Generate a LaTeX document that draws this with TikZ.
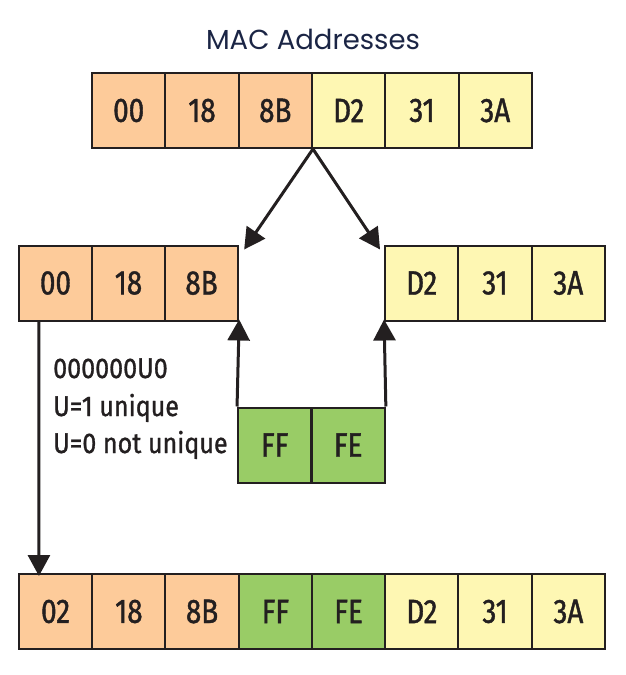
\documentclass[tikz,border=0pt]{standalone}
\usepackage{fontspec}
\setmainfont{Fira Sans}
\newfontfamily\titlefont{Poppins}
\newfontfamily\cellfont{Fira Sans}[FakeStretch=0.82,FakeBold=1.2]
\newfontfamily\notefont{Fira Sans}[FakeStretch=0.88,FakeBold=1.0]
\usetikzlibrary{arrows.meta}
\definecolor{orangecell}{HTML}{FDCB9A}
\definecolor{yellowcell}{HTML}{FEF7B3}
\definecolor{greencell}{HTML}{99CC66}
\definecolor{edge}{HTML}{231F20}
\definecolor{titleblue}{HTML}{1B2545}
\begin{document}
\begin{tikzpicture}[x=1pt,y=-1pt,
  cell/.style={draw=edge,line width=2pt,minimum width=73.3pt,minimum height=75pt,inner sep=0pt,
    font=\cellfont\fontsize{34}{34}\selectfont,text=edge},
  oc/.style={cell,fill=orangecell},
  yc/.style={cell,fill=yellowcell},
  gc/.style={cell,fill=greencell},
  arr/.style={draw=edge,line width=3pt,-{Triangle[length=21pt,width=22pt]}},
  note/.style={anchor=base west,inner sep=0pt,font=\notefont\fontsize{28.5}{28.5}\selectfont,text=edge}]
\useasboundingbox (0,0) rectangle (626,675);
\node[anchor=base,inner sep=0pt,text=titleblue,font=\titlefont\fontsize{27.5}{27.5}\selectfont] (title) at (313,49) {MAC Addresses};
% top row
\node[oc] (t1) at (128.7,110.5) {00};
\node[oc] (t2) at (202,110.5) {18};
\node[oc] (t3) at (275.3,110.5) {8B};
\node[yc] (t4) at (348.7,110.5) {D2};
\node[yc] (t5) at (422,110.5) {31};
\node[yc] (t6) at (495.3,110.5) {3A};
% middle left
\node[oc] (m1) at (55.5,283) {00};
\node[oc] (m2) at (128.5,283) {18};
\node[oc] (m3) at (201.5,283) {8B};
% middle right
\node[yc] (r1) at (421.7,283) {D2};
\node[yc] (r2) at (495,283) {31};
\node[yc] (r3) at (568.3,283) {3A};
% green
\node[gc] (g1) at (274.7,445) {FF};
\node[gc] (g2) at (348.2,445) {FE};
% bottom row
\node[oc] (b1) at (55.6,611.5) {02};
\node[oc] (b2) at (128.9,611.5) {18};
\node[oc] (b3) at (202.1,611.5) {8B};
\node[gc] (b4) at (275.4,611.5) {FF};
\node[gc] (b5) at (348.6,611.5) {FE};
\node[yc] (b6) at (421.9,611.5) {D2};
\node[yc] (b7) at (495.1,611.5) {31};
\node[yc] (b8) at (568.4,611.5) {3A};
% notes
\node[note] (n1) at (53,378) {000000U0};
\node[note] (n2) at (53,416) {U=1 unique};
\node[note] (n3) at (53,453) {U=0 not unique};
% arrows
\coordinate (split) at (t3.south east);
\draw[arr] (split) -- ([shift={(5pt,-5pt)}]m3.north east);
\draw[arr] (split) -- ([shift={(-4pt,-5pt)}]r1.north west);
\draw[arr] (g1.north west) -- ([yshift=2pt]m3.south east);
\draw[arr] (g2.north east) -- ([yshift=2pt]r1.south west);
\draw[arr] ([xshift=21pt]m1.south west) -- ([xshift=21pt,yshift=-3pt]b1.north west);
\end{tikzpicture}
\end{document}
